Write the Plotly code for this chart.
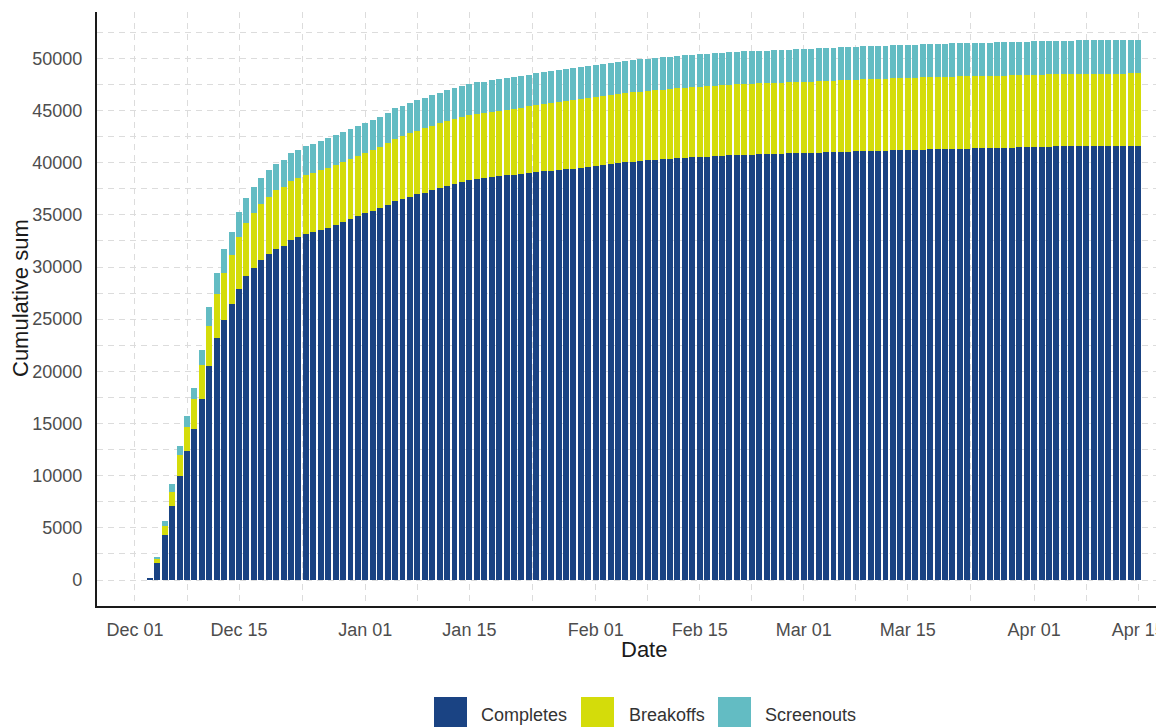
import pandas as pd
import plotly.graph_objects as go

# ---------------- data (cumulative sums, one bar per day) ----------------
start_date = "2022-12-03"

completes = [
    200, 1660, 4310, 7090, 9960, 12360, 14500, 17340, 20530, 23150,
    24910, 26410, 27940, 29120, 29950, 30650, 31290, 31770, 32050, 32570,
    32830, 33120, 33310, 33530, 33750, 34010, 34270, 34560, 34880, 35130,
    35390, 35610, 35930, 36310, 36500, 36720, 36950, 37140, 37360, 37580,
    37770, 38000, 38150, 38320, 38480, 38540, 38640, 38730, 38800, 38860,
    38960, 39040, 39100, 39160, 39200, 39290, 39370, 39440, 39520, 39600,
    39690, 39780, 39880, 39970, 40040, 40100, 40160, 40210, 40260, 40310,
    40360, 40410, 40450, 40500, 40540, 40580, 40630, 40660, 40690, 40720,
    40750, 40770, 40800, 40820, 40840, 40860, 40880, 40900, 40920, 40940,
    40960, 40990, 41010, 41040, 41060, 41080, 41110, 41130, 41140, 41150,
    41170, 41180, 41200, 41220, 41250, 41270, 41290, 41300, 41320, 41340,
    41350, 41360, 41370, 41390, 41410, 41420, 41440, 41460, 41480, 41500,
    41520, 41530, 41550, 41570, 41580, 41590, 41600, 41600, 41610, 41610,
    41610, 41610, 41620, 41620,
]

breakoffs = [
    0, 320, 860, 1370, 2010, 2270, 2810, 3260, 3830, 4250,
    4530, 4720, 4950, 5110, 5240, 5370, 5430, 5590, 5660, 5680,
    5700, 5710, 5720, 5740, 5750, 5760, 5770, 5780, 5790, 5800,
    5830, 5880, 5920, 5970, 6030, 6080, 6120, 6150, 6170, 6180,
    6190, 6200, 6210, 6220, 6230, 6240, 6250, 6260, 6270, 6280,
    6290, 6360, 6430, 6500, 6560, 6570, 6580, 6580, 6590, 6590,
    6600, 6600, 6610, 6610, 6620, 6630, 6640, 6660, 6670, 6690,
    6700, 6720, 6730, 6740, 6750, 6760, 6760, 6770, 6780, 6780,
    6790, 6800, 6800, 6800, 6810, 6810, 6820, 6820, 6830, 6830,
    6840, 6840, 6850, 6860, 6860, 6870, 6870, 6880, 6890, 6900,
    6910, 6920, 6920, 6930, 6930, 6930, 6930, 6930, 6930, 6930,
    6930, 6930, 6930, 6930, 6930, 6930, 6930, 6930, 6930, 6930,
    6930, 6930, 6930, 6930, 6930, 6930, 6930, 6930, 6930, 6930,
    6930, 6930, 6930, 6930,
]

screenouts = [
    0, 250, 510, 740, 870, 1080, 1110, 1430, 1820, 2040,
    2240, 2250, 2390, 2400, 2490, 2520, 2540, 2550, 2590, 2650,
    2690, 2750, 2800, 2830, 2850, 2860, 2870, 2880, 2890, 2900,
    2910, 2910, 2920, 2920, 2930, 2930, 2940, 2940, 2950, 2950,
    2960, 2960, 2970, 2970, 2980, 2990, 3000, 3010, 3020, 3030,
    3040, 3040, 3050, 3050, 3060, 3060, 3060, 3070, 3070, 3070,
    3070, 3080, 3080, 3080, 3080, 3080, 3090, 3090, 3090, 3090,
    3090, 3100, 3100, 3100, 3110, 3110, 3110, 3110, 3120, 3120,
    3120, 3120, 3130, 3130, 3130, 3130, 3140, 3140, 3140, 3140,
    3150, 3150, 3150, 3150, 3160, 3160, 3160, 3160, 3160, 3170,
    3170, 3170, 3170, 3170, 3170, 3170, 3180, 3180, 3180, 3180,
    3180, 3180, 3180, 3180, 3180, 3180, 3190, 3190, 3190, 3190,
    3190, 3190, 3190, 3190, 3190, 3190, 3190, 3190, 3190, 3190,
    3190, 3190, 3190, 3190,
]

series_names = ["Completes", "Breakoffs", "Screenouts"]

tick_dates = ["2022-12-01", "2022-12-15", "2023-01-01", "2023-01-15", "2023-02-01",
              "2023-02-15", "2023-03-01", "2023-03-15", "2023-04-01", "2023-04-15"]
tick_labels = ["Dec 01", "Dec 15", "Jan 01", "Jan 15", "Feb 01",
               "Feb 15", "Mar 01", "Mar 15", "Apr 01", "Apr 15"]
minor_dates = ["2022-12-08", "2022-12-23 12:00", "2023-01-08", "2023-01-23 12:00",
               "2023-02-08", "2023-02-22", "2023-03-08", "2023-03-23 12:00", "2023-04-08"]

y_ticks = [0, 5000, 10000, 15000, 20000, 25000, 30000, 35000, 40000, 45000, 50000]

# ---------------- style ----------------
colors = ["#1a4383", "#d4dc0a", "#63bcc3"]
FONT = "Liberation Sans, Arial, Helvetica, sans-serif"
W, H = 1156, 727
L, R, T, B = 97, 0, 12, 121
PW, PH = W - L - R, H - T - B


def px_x(px):
    return (px - L) / PW


def px_y(py):
    return (H - B - py) / PH


dates = pd.date_range(start_date, periods=len(completes), freq="D")

fig = go.Figure()
for name, vals, col in zip(series_names, [completes, breakoffs, screenouts], colors):
    fig.add_trace(go.Bar(x=dates, y=vals, name=name, marker=dict(color=col, line=dict(width=0)),
                         showlegend=False))

grid = dict(showgrid=True, gridcolor="#dcdcdc", gridwidth=1, griddash="6px,5px")

fig.update_layout(
    width=W, height=H,
    margin=dict(l=L, r=R, t=T, b=B, autoexpand=False),
    barmode="stack", bargap=0.2,
    plot_bgcolor="white", paper_bgcolor="white",
    font=dict(family=FONT, color="#4d4d4d"),
    xaxis=dict(
        type="date",
        range=["2022-11-25 21:20", "2023-04-17 09:36"],
        tickmode="array", tickvals=tick_dates, ticktext=tick_labels,
        tickfont=dict(size=18, color="#4d4d4d"),
        ticks="", ticklabelstandoff=6, ticklabeloverflow="allow",
        showline=True, linecolor="#1a1a1a", linewidth=2.2,
        zeroline=False,
        minor=dict(tickmode="array", tickvals=minor_dates, **grid),
        **grid,
    ),
    yaxis=dict(
        range=[-2490, 54440],
        tickmode="array", tickvals=y_ticks, tickformat="d",
        tickfont=dict(size=18, color="#4d4d4d"),
        ticks="", ticklabelstandoff=9,
        showline=True, linecolor="#1a1a1a", linewidth=2.2,
        zeroline=False,
        minor=dict(tickmode="linear", tick0=0, dtick=2500, **grid),
        **grid,
    ),
)

# axis titles
fig.add_annotation(text="Date", xref="paper", yref="paper", x=px_x(644), y=px_y(650),
                   xanchor="center", yanchor="middle", showarrow=False,
                   font=dict(size=22, color="#1a1a1a", family=FONT))
fig.add_annotation(text="Cumulative sum", xref="paper", yref="paper", x=px_x(20), y=px_y(298),
                   xanchor="center", yanchor="middle", showarrow=False, textangle=-90,
                   font=dict(size=22, color="#1a1a1a", family=FONT))

# legend (bottom, centred)
legend_boxes = [(434, 467), (581, 614), (718, 751)]
legend_text_x = [480, 628, 764]
for (x0, x1), tx, name, col in zip(legend_boxes, legend_text_x, series_names, colors):
    fig.add_shape(type="rect", xref="paper", yref="paper",
                  x0=px_x(x0), x1=px_x(x1), y0=px_y(697), y1=px_y(740),
                  fillcolor=col, line=dict(width=0), layer="above")
    fig.add_annotation(text=name, xref="paper", yref="paper", x=px_x(tx), y=px_y(715),
                       xanchor="left", yanchor="middle", showarrow=False, borderpad=0,
                       font=dict(size=18, color="#333333", family=FONT))

fig.write_html("out.html", config={"displayModeBar": False},
               post_script="document.body.style.margin='0';")
